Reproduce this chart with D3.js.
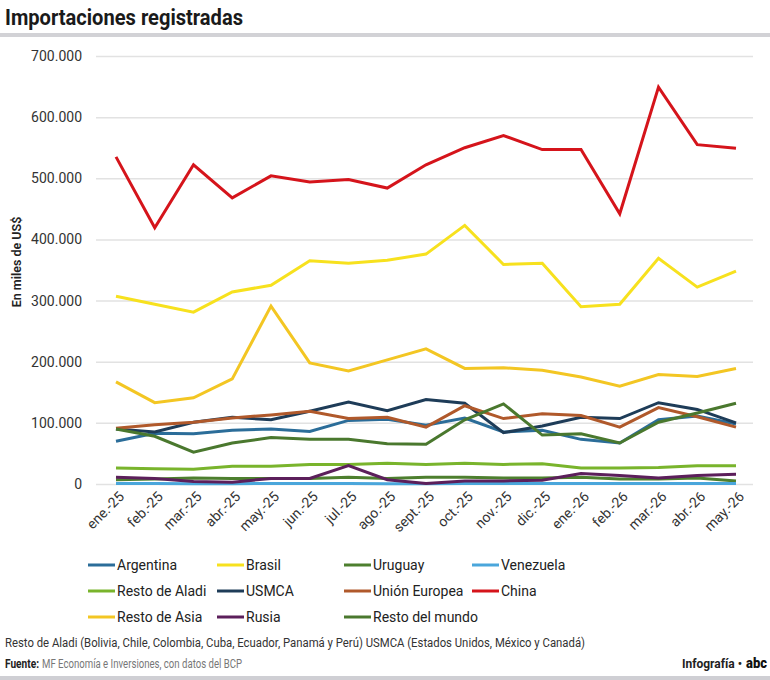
<!DOCTYPE html>
<html>
<head>
<meta charset="utf-8">
<script src="https://cdn.jsdelivr.net/npm/d3@7"></script>
<style>
  body { margin: 0; background: #fff; }
  text { font-family: Roboto, "Noto Sans", sans-serif; }
</style>
</head>
<body>
<svg id="chart" width="770" height="680"></svg>
<script>
// meses (eje x)
var months = ["ene.-25","feb.-25","mar.-25","abr.-25","may.-25","jun.-25","jul.-25","ago.-25","sept.-25",
              "oct.-25","nov.-25","dic.-25","ene.-26","feb.-26","mar.-26","abr.-26","may.-26"];

// series, en miles de US$
var argentina  = [70000, 83000, 82000, 88000, 90000, 86000, 104000, 106000, 96000, 108000, 85000, 88000, 73000, 67000, 105000, 111000, 98000];
var brasil     = [307000, 294000, 281000, 314000, 325000, 365000, 361000, 366000, 376000, 423000, 359000, 361000, 290000, 294000, 369000, 322000, 348000];
var uruguay    = [7000, 8000, 10000, 9000, 9000, 9000, 11000, 9000, 11000, 11000, 10000, 10000, 11000, 8000, 8000, 10000, 5000];
var venezuela  = [1000, 1000, 500, 500, 1000, 1000, 1000, 500, 500, 1000, 1000, 1000, 1000, 1000, 1000, 1000, 1000];
var restoAladi = [26000, 25000, 24000, 29000, 29000, 32000, 32000, 34000, 32000, 34000, 32000, 33000, 26000, 26000, 27000, 30000, 30000];
var usmca      = [90000, 85000, 101000, 109000, 105000, 119000, 134000, 120000, 138000, 132000, 84000, 95000, 109000, 107000, 133000, 122000, 100000];
var unionEur   = [91000, 97000, 101000, 108000, 113000, 119000, 107000, 109000, 93000, 128000, 107000, 115000, 112000, 93000, 125000, 110000, 93000];
var china      = [535000, 419000, 522000, 468000, 504000, 494000, 498000, 484000, 522000, 550000, 570000, 547000, 547000, 442000, 649000, 555000, 549000];
var restoAsia  = [167000, 133000, 141000, 172000, 291000, 198000, 185000, 203000, 221000, 189000, 190000, 186000, 175000, 160000, 179000, 176000, 189000];
var rusia      = [11000, 9000, 4000, 3000, 9000, 9000, 30000, 7000, 1000, 5000, 5000, 6000, 17000, 14000, 10000, 14000, 16000];
var restoMundo = [90000, 78000, 52000, 67000, 76000, 73000, 73000, 66000, 65000, 105000, 131000, 80000, 82000, 67000, 101000, 116000, 132000];

var yTicks = [0, 100000, 200000, 300000, 400000, 500000, 600000, 700000];

var series = [
    {name: "Argentina",       values: argentina,  color: "#2b6d99"},
    {name: "Brasil",          values: brasil,     color: "#f7e11e"},
    {name: "Uruguay",         values: uruguay,    color: "#4d7f2e"},
    {name: "Venezuela",       values: venezuela,  color: "#4aa6db"},
    {name: "Resto de Aladi",  values: restoAladi, color: "#79b42c"},
    {name: "USMCA",           values: usmca,      color: "#1e3c58"},
    {name: "Unión Europea",   values: unionEur,   color: "#b0592b"},
    {name: "China",           values: china,      color: "#d5141b"},
    {name: "Resto de Asia",   values: restoAsia,  color: "#f3c623"},
    {name: "Rusia",           values: rusia,      color: "#5c1f5b"},
    {name: "Resto del mundo", values: restoMundo, color: "#4a782e"}
];

var svg = d3.select("#chart");

var es = d3.formatLocale({decimal: ",", thousands: ".", grouping: [3], currency: ["$", ""]});
var fmt = es.format(",");

// titulo
svg.append("text")
    .attr("x", 5).attr("y", 25)
    .attr("textLength", 238).attr("lengthAdjust", "spacingAndGlyphs")
    .style("font-size", "22px").style("font-weight", "700").style("fill", "#1a1a1a")
    .text("Importaciones registradas");
svg.append("rect").attr("x", 0).attr("y", 33).attr("width", 770).attr("height", 4).attr("fill", "#d2d2d6");

var xScale = d3.scalePoint().domain(months).range([116, 736]);
var yScale = d3.scaleLinear().domain([0, 700000]).range([484, 56]);

// eje y + grilla
var yAxis = svg.append("g")
    .attr("transform", "translate(96,0)")
    .call(d3.axisLeft(yScale).tickValues(yTicks).tickSize(-657).tickPadding(14).tickFormat(fmt));
yAxis.select(".domain").remove();
yAxis.selectAll(".tick line").attr("stroke", "#e2e2e2").attr("stroke-width", 1.5);
yAxis.selectAll(".tick text").style("font-size", "14px").style("fill", "#333").style("font-family", "Roboto, sans-serif");

svg.append("text")
    .attr("transform", "translate(21,262) rotate(-90)")
    .attr("text-anchor", "middle")
    .style("font-size", "12.5px").style("font-weight", "600").style("fill", "#222")
    .text("En miles de US$");

// eje x
var xAxis = svg.append("g")
    .attr("transform", "translate(0,484)")
    .call(d3.axisBottom(xScale).tickSize(0).tickPadding(0));
xAxis.select(".domain").remove();
xAxis.selectAll(".tick text")
    .attr("text-anchor", "end")
    .attr("transform", "translate(5,10) rotate(-45)")
    .attr("dy", "0.35em").attr("y", 0)
    .style("font-size", "14px").style("fill", "#333").style("font-family", "Roboto, sans-serif");

// lineas
var line = d3.line()
    .x(function(d, i){ return xScale(months[i]); })
    .y(function(d){ return yScale(d); });

svg.append("g").selectAll("path").data(series).enter()
    .append("path")
    .attr("d", function(d){ return line(d.values); })
    .attr("fill", "none")
    .attr("stroke", function(d){ return d.color; })
    .attr("stroke-width", 3)
    .attr("stroke-linejoin", "miter");

// leyenda
var legCols = [88, 217, 344, 472];
var legRows = [565, 591, 617];
var leg = svg.append("g").selectAll("g").data(series).enter()
    .append("g")
    .attr("transform", function(d, i){
        return "translate(" + legCols[i % 4] + "," + legRows[Math.floor(i / 4)] + ")";
    });
leg.append("line").attr("x1", 0).attr("x2", 27).attr("y1", 0).attr("y2", 0)
    .attr("stroke", function(d){ return d.color; }).attr("stroke-width", 3);
leg.append("text").attr("x", 29).attr("y", 5)
    .style("font-size", "14px").style("fill", "#222")
    .text(function(d){ return d.name; });

// pie
svg.append("text")
    .attr("x", 5).attr("y", 647)
    .attr("textLength", 580).attr("lengthAdjust", "spacingAndGlyphs")
    .style("font-size", "12.5px").style("fill", "#333")
    .text("Resto de Aladi (Bolivia, Chile, Colombia, Cuba, Ecuador, Panamá y Perú) USMCA (Estados Unidos, México y Canadá)");

svg.append("text").attr("x", 5).attr("y", 668)
    .attr("textLength", 34).attr("lengthAdjust", "spacingAndGlyphs")
    .style("font-size", "12px").style("font-weight", "700").style("fill", "#222")
    .text("Fuente:");
svg.append("text").attr("x", 42).attr("y", 668)
    .attr("textLength", 200).attr("lengthAdjust", "spacingAndGlyphs")
    .style("font-size", "12px").style("fill", "#777")
    .text("MF Economía e Inversiones, con datos del BCP");

svg.append("text")
    .attr("x", 742).attr("y", 668).attr("text-anchor", "end")
    .style("font-size", "12px").style("font-weight", "700").style("fill", "#222")
    .text("Infografía •");
svg.append("text")
    .attr("x", 746).attr("y", 668)
    .attr("textLength", 21).attr("lengthAdjust", "spacingAndGlyphs")
    .style("font-size", "14px").style("font-weight", "900").style("fill", "#111")
    .text("abc");

svg.append("rect").attr("x", 0).attr("y", 676).attr("width", 770).attr("height", 4).attr("fill", "#cfcfd4");
</script>
</body>
</html>
